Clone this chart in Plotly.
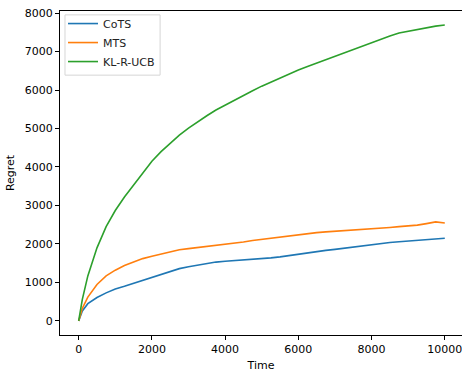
import plotly.graph_objects as go

t = [0, 100, 250, 500, 750, 1000, 1250, 1500, 1750, 2000, 2250, 2500, 2750, 3000, 3250, 3500,
     3750, 4000, 4250, 4500, 4750, 5000, 5250, 5500, 5750, 6000, 6250, 6500, 6750, 7000,
     7250, 7500, 7750, 8000, 8250, 8500, 8750, 9000, 9250, 9500, 9750, 10000]

cots = [0, 260, 450, 610, 730, 830, 900, 980, 1060, 1140, 1210, 1290, 1360, 1410, 1455, 1495,
        1530, 1550, 1565, 1580, 1600, 1620, 1640, 1665, 1700, 1740, 1770, 1800, 1835, 1860,
        1890, 1920, 1950, 1985, 2020, 2040, 2060, 2080, 2090, 2110, 2130, 2150]

mts = [0, 330, 620, 950, 1170, 1320, 1440, 1540, 1620, 1680, 1740, 1800, 1850, 1880, 1910, 1935,
       1960, 1980, 2010, 2050, 2090, 2120, 2160, 2190, 2220, 2250, 2270, 2295, 2315, 2330,
       2340, 2360, 2380, 2400, 2410, 2430, 2450, 2465, 2490, 2530, 2575, 2545]

klrucb = [0, 560, 1170, 1900, 2450, 2870, 3220, 3530, 3840, 4150, 4400, 4620, 4830, 5010, 5180, 5330,
          5480, 5610, 5740, 5860, 5980, 6100, 6210, 6320, 6420, 6520, 6610, 6700, 6790, 6880,
          6960, 7040, 7130, 7220, 7310, 7400, 7480, 7530, 7570, 7620, 7660, 7690]

names = ["CoTS", "MTS", "KL-R-UCB"]
colors = ["#1f77b4", "#ff7f0e", "#2ca02c"]
x_ticks = [0, 2000, 4000, 6000, 8000, 10000]
y_ticks = [0, 1000, 2000, 3000, 4000, 5000, 6000, 7000, 8000]

fig = go.Figure()
for name, ys, c in zip(names, [cots, mts, klrucb], colors):
    fig.add_trace(go.Scatter(x=t, y=ys, mode="lines", name=name,
                             line=dict(color=c, width=1.6)))

font = dict(family="DejaVu Sans", size=11, color="black")

# legend frame (plot area spans px 60..462 horizontally, 11..335 vertically)
fig.add_shape(type="rect", xref="paper", yref="paper",
              x0=0.0124, x1=0.249, y0=0.802, y1=0.988,
              line=dict(color="#d6d6d6", width=1), fillcolor="rgba(255,255,255,0.8)",
              layer="above")

fig.update_layout(
    width=462, height=375,
    margin=dict(l=60, r=0, t=11, b=40),
    paper_bgcolor="white", plot_bgcolor="white",
    font=font,
    showlegend=True,
    legend=dict(x=0.0075, y=1.006, xanchor="left", yanchor="top",
                bgcolor="rgba(0,0,0,0)", borderwidth=0,
                font=dict(family="DejaVu Sans", size=11, color="#222"),
                tracegroupgap=0),
    xaxis=dict(range=[-510, 10470], tickvals=x_ticks, ticktext=[str(v) for v in x_ticks],
               showgrid=False, zeroline=False, showline=True, linecolor="black", linewidth=1,
               mirror=True, ticks="outside", ticklen=4, tickcolor="black",
               ticklabeloverflow="allow",
               title=dict(text="Time", font=font, standoff=6)),
    yaxis=dict(range=[-364, 8052], tickvals=y_ticks, ticktext=[str(v) for v in y_ticks],
               showgrid=False, zeroline=False, showline=True, linecolor="black", linewidth=1,
               mirror=False, ticks="outside", ticklen=4, tickcolor="black",
               title=dict(text="Regret", font=font, standoff=7)),
)

fig.write_html("out.html")
